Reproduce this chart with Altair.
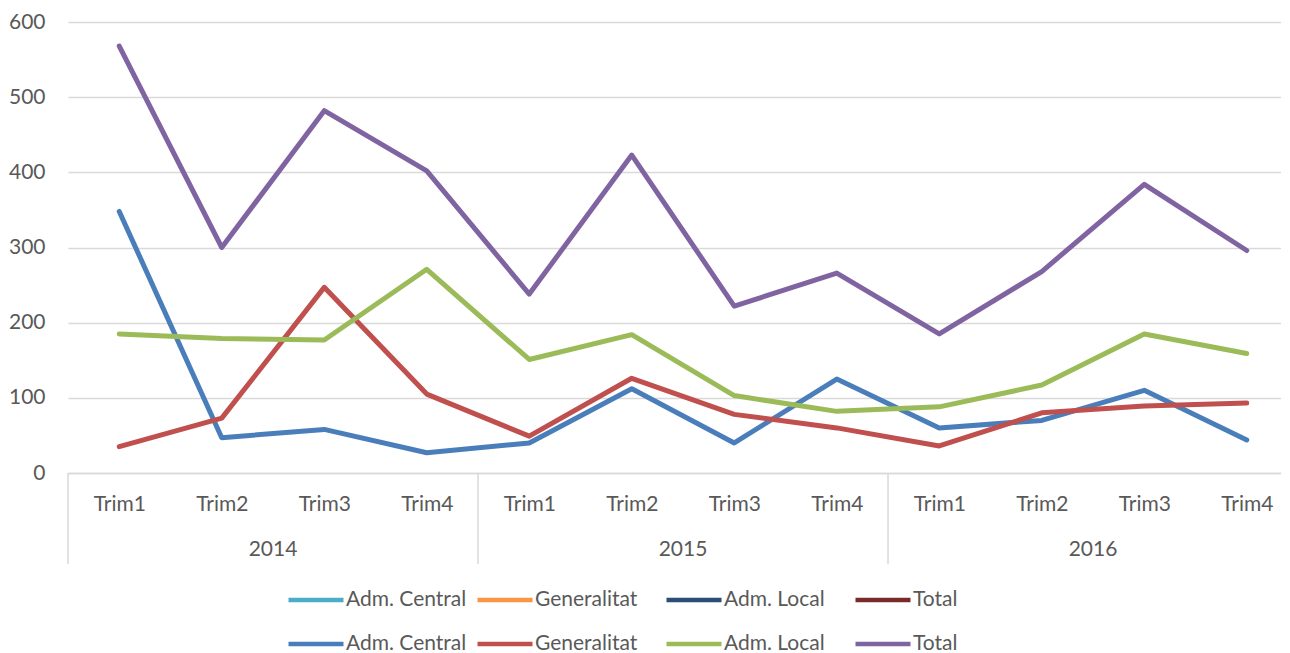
import altair as alt
import pandas as pd

# ---- data ----
years = ["2014", "2015", "2016"]
quarters = ["Trim1", "Trim2", "Trim3", "Trim4"]
series_names = ["Adm. Central", "Generalitat", "Adm. Local", "Total"]

adm_central = [348, 47, 58, 27, 40, 112, 40, 125, 60, 70, 110, 44]
generalitat = [35, 73, 247, 105, 49, 126, 78, 60, 36, 80, 89, 93]
adm_local = [185, 179, 177, 271, 151, 184, 103, 82, 88, 117, 185, 159]
total = [568, 300, 482, 402, 238, 423, 222, 266, 185, 268, 384, 296]

hidden_colors = ["#4bacc6", "#f79646", "#2c4d75", "#772c2a"]
shown_colors = ["#4a7ebb", "#c0504d", "#9bbb59", "#8064a2"]

FONT = "Lato"
FS = 21
TXT = "#595959"
GRID = "#d9d9d9"

# ---- tables ----
keys_hidden = [f"{n}|a" for n in series_names]
keys_shown = [f"{n}|b" for n in series_names]

rows = []
for key, vals in zip(keys_shown, [adm_central, generalitat, adm_local, total]):
    for i, v in enumerate(vals):
        rows.append({"serie": key, "idx": i, "year": years[i // 4],
                     "quarter": quarters[i % 4], "value": v})
df = pd.DataFrame(rows)

year_df = pd.DataFrame({"year": years,
                        "center": [4 * k + 1.5 for k in range(len(years))]})
sep_df = pd.DataFrame({"pos": [4 * k - 0.5 for k in range(len(years))]})

n_cat = len(years) * len(quarters)
xscale = alt.Scale(domain=[-0.5, 11.334], nice=False, zero=False)

lines = alt.Chart(df).mark_line(strokeWidth=5, strokeCap="round", strokeJoin="round").encode(
    x=alt.X("idx:Q", scale=xscale,
            axis=alt.Axis(values=list(range(n_cat)), title=None, grid=False, ticks=False,
                          domainColor=GRID, domainWidth=1.5,
                          labelExpr="['Trim1','Trim2','Trim3','Trim4'][datum.value % 4]",
                          labelFont=FONT, labelFontSize=FS, labelColor=TXT,
                          labelPadding=20, labelOverlap=False, labelFlush=False)),
    y=alt.Y("value:Q", scale=alt.Scale(domain=[0, 600], nice=False),
            axis=alt.Axis(values=[0, 100, 200, 300, 400, 500, 600], title=None,
                          domain=False, ticks=False, gridColor=GRID, gridWidth=1.4,
                          labelFont=FONT, labelFontSize=FS, labelColor=TXT,
                          labelPadding=23)),
    color=alt.Color("serie:N",
                    scale=alt.Scale(domain=keys_hidden + keys_shown,
                                    range=hidden_colors + shown_colors),
                    legend=alt.Legend(orient="none", legendX=218, legendY=548,
                                      direction="horizontal", columns=4, gridAlign="all",
                                      columnPadding=1, rowPadding=4, padding=0,
                                      symbolType="stroke", symbolSize=3025,
                                      symbolStrokeWidth=4.6, title=None,
                                      labelExpr="split(datum.label, '|')[0]",
                                      labelFont=FONT, labelFontSize=FS, labelColor=TXT,
                                      labelOffset=0, labelLimit=0)),
    order=alt.Order("idx:Q"),
)

seps = alt.Chart(sep_df).mark_rule(color=GRID, strokeWidth=1.5).encode(
    x=alt.X("pos:Q", scale=xscale),
    y=alt.value(451),
    y2=alt.value(542),
)

year_text = alt.Chart(year_df).mark_text(font=FONT, fontSize=FS, color=TXT,
                                         baseline="middle", align="center").encode(
    x=alt.X("center:Q", scale=xscale),
    y=alt.value(528),
    text="year:N",
)

chart = alt.layer(seps, lines, year_text).properties(
    width=1213, height=451,
    padding={"left": 0, "top": 3, "right": 0, "bottom": 0},
).configure_view(stroke=None)

chart.save("out.html", embed_options={"renderer": "svg", "actions": False})
